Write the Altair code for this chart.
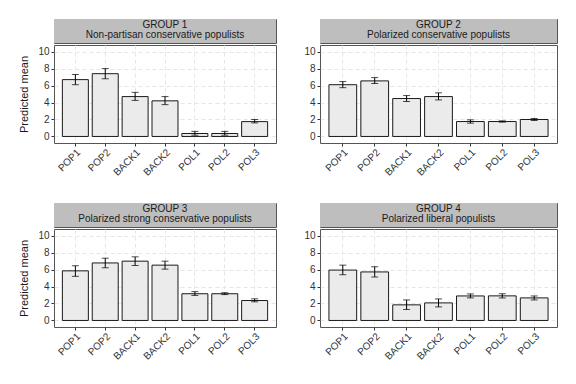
import altair as alt
import pandas as pd

categories = ["POP1", "POP2", "BACK1", "BACK2", "POL1", "POL2", "POL3"]
group_labels = ["GROUP 1", "GROUP 2", "GROUP 3", "GROUP 4"]
group_names = [
    "Non-partisan conservative populists",
    "Polarized conservative populists",
    "Polarized strong conservative populists",
    "Polarized liberal populists",
]

mean_g1 = [6.7, 7.4, 4.7, 4.2, 0.35, 0.35, 1.75]
low_g1 = [6.1, 6.8, 4.25, 3.75, 0.15, 0.15, 1.6]
high_g1 = [7.3, 8.0, 5.2, 4.7, 0.6, 0.6, 2.0]

mean_g2 = [6.1, 6.55, 4.47, 4.7, 1.76, 1.76, 2.0]
low_g2 = [5.75, 6.24, 4.12, 4.31, 1.57, 1.69, 1.88]
high_g2 = [6.47, 6.94, 4.82, 5.14, 1.96, 1.84, 2.12]

mean_g3 = [5.85, 6.78, 6.99, 6.52, 3.15, 3.15, 2.35]
low_g3 = [5.2, 6.21, 6.48, 6.05, 2.95, 3.05, 2.2]
high_g3 = [6.45, 7.34, 7.5, 6.99, 3.4, 3.27, 2.55]

mean_g4 = [5.94, 5.72, 1.84, 2.07, 2.89, 2.9, 2.66]
low_g4 = [5.39, 5.12, 1.29, 1.6, 2.66, 2.65, 2.42]
high_g4 = [6.52, 6.33, 2.42, 2.54, 3.13, 3.15, 2.89]

y_ticks = [0, 2, 4, 6, 8, 10]

means = [mean_g1, mean_g2, mean_g3, mean_g4]
lows = [low_g1, low_g2, low_g3, low_g4]
highs = [high_g1, high_g2, high_g3, high_g4]

FONT = "Liberation Sans"
STRIP_H = 24
PLOT_H = 98


def panel(i, width, show_title):
    df = pd.DataFrame({
        "cat": categories,
        "mean": means[i],
        "low": lows[i],
        "high": highs[i],
    })
    xaxis = alt.Axis(title=None, labelAngle=-45, labelAlign="right",
                     labelBaseline="top", grid=True, gridDash=[4, 3],
                     gridColor="#E6E6E6", domain=False, tickColor="#333333",
                     tickSize=3, labelPadding=1, labelFontSize=10,
                     labelColor="#333333", labelOverlap=False)
    xscale = alt.Scale(paddingInner=0.13, paddingOuter=0.28)
    yscale = alt.Scale(domain=[-0.77, 10.78], nice=False, zero=False)
    yaxis = alt.Axis(
        values=y_ticks, title="Predicted mean" if show_title else None,
        grid=True, gridDash=[4, 3], gridColor="#E6E6E6", domain=False,
        tickColor="#333333", tickSize=3, labelPadding=2, labelFontSize=10,
        labelColor="#333333", labelOverlap=False, titleFontSize=11,
        titleFontWeight="normal", titleColor="#1a1a1a", titlePadding=8,
    )

    def X():
        return alt.X("cat:N", sort=categories, scale=xscale, axis=xaxis)

    def Y(field):
        return alt.Y(field, type="quantitative", scale=yscale, axis=yaxis)

    base = alt.Chart(df)
    bars = base.mark_bar(fill="#EBEBEB", stroke="#1a1a1a", strokeWidth=1).encode(
        x=X(), y=Y("mean"), y2=alt.datum(0)
    )
    rule = base.mark_rule(color="black", strokeWidth=1).encode(
        x=X(), y=Y("low"), y2="high:Q"
    )
    tick_lo = base.mark_tick(color="black", size=7, thickness=1).encode(
        x=X(), y=Y("low")
    )
    tick_hi = base.mark_tick(color="black", size=7, thickness=1).encode(
        x=X(), y=Y("high")
    )
    plot = alt.layer(bars, rule, tick_lo, tick_hi).properties(width=width, height=PLOT_H)

    sdf = pd.DataFrame({"label": [group_labels[i]], "name": [group_names[i]]})
    sbase = alt.Chart(sdf)
    srect = sbase.mark_rect(fill="#BEBEBE").encode(
        x=alt.value(0), x2=alt.value(width), y=alt.value(0), y2=alt.value(STRIP_H)
    )
    t1 = sbase.mark_text(fontSize=10, color="#1a1a1a", font=FONT).encode(
        x=alt.value(width / 2), y=alt.value(6), text="label:N"
    )
    t2 = sbase.mark_text(fontSize=10, color="#1a1a1a", font=FONT).encode(
        x=alt.value(width / 2), y=alt.value(16), text="name:N"
    )
    strip = alt.layer(srect, t1, t2).properties(width=width, height=STRIP_H)
    return alt.vconcat(strip, plot, spacing=0)


row1 = alt.hconcat(panel(0, 222, True), panel(1, 237, False), spacing=26)
row2 = alt.hconcat(panel(2, 222, True), panel(3, 237, False), spacing=26)

chart = alt.vconcat(row1, row2, spacing=24).properties(
    padding={"left": 10, "top": 10, "right": 0, "bottom": 0}
).configure_view(
    stroke="#555555", strokeWidth=1
).configure_axis(
    labelFont=FONT, titleFont=FONT
).configure_text(font=FONT)

chart.save("out.html", embed_options={"renderer": "svg", "actions": False})
